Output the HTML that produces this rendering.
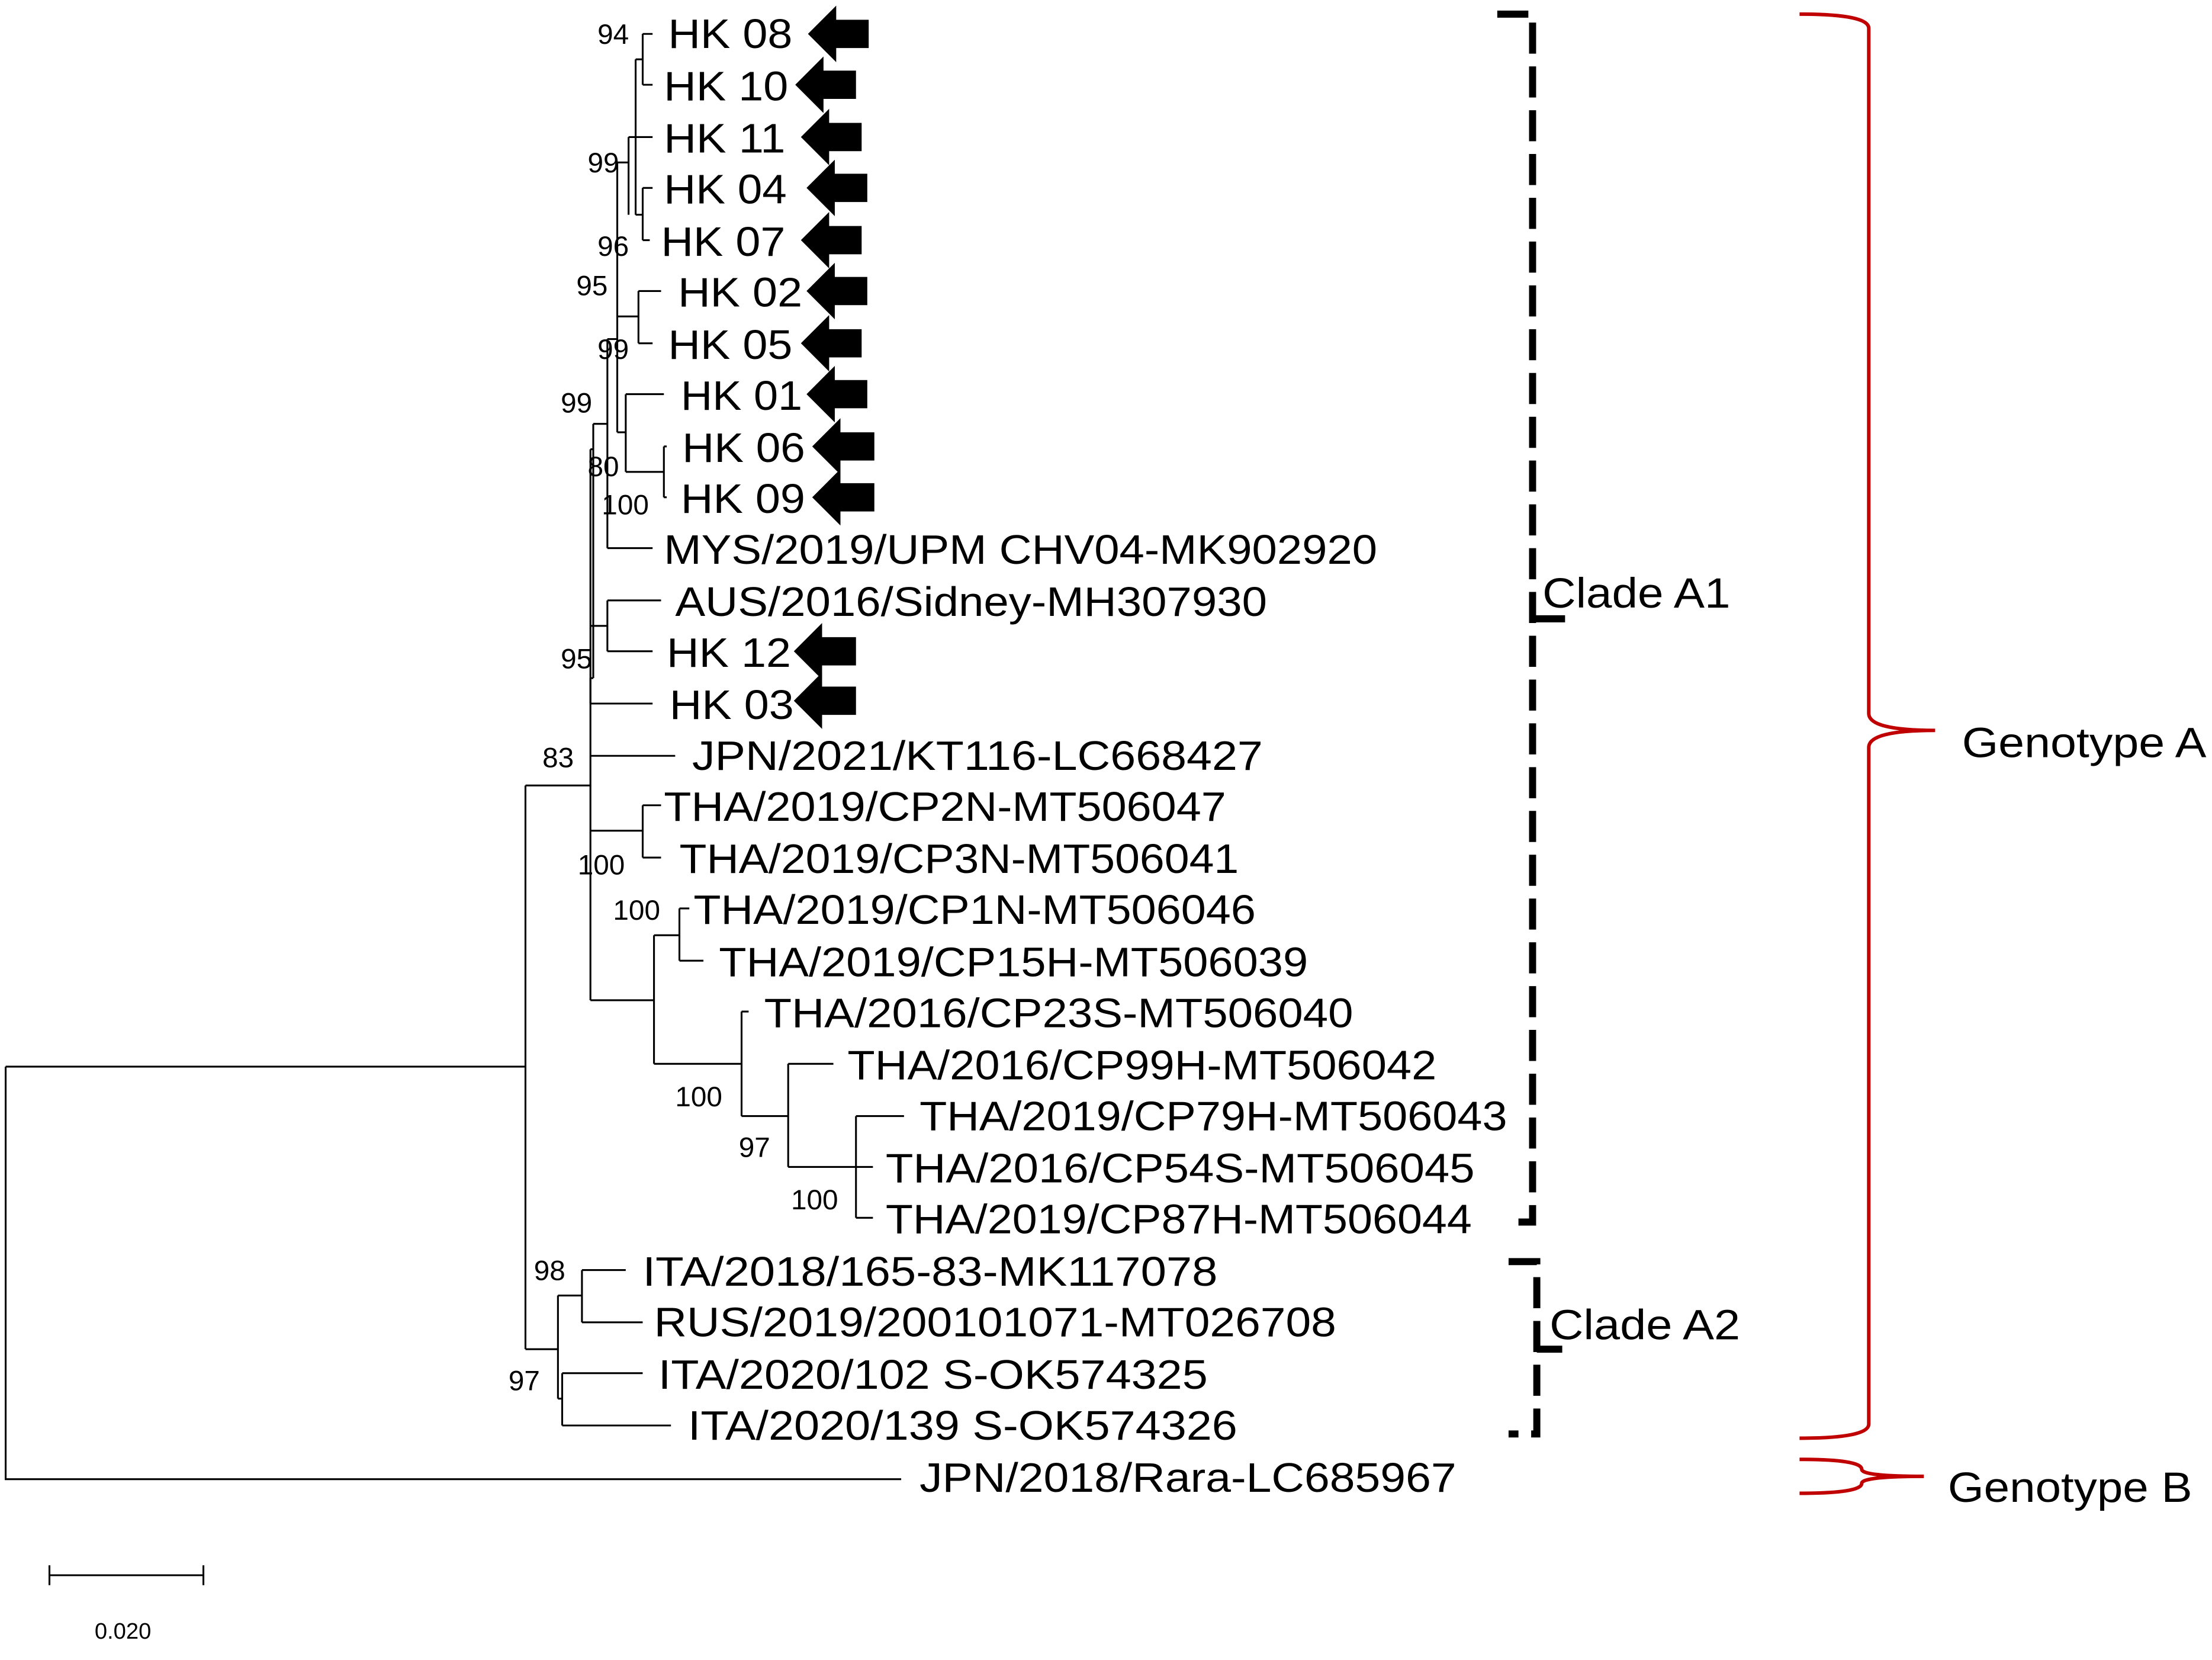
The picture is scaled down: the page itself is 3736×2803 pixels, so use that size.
<!DOCTYPE html>
<html><head><meta charset="utf-8"><style>
html,body{margin:0;padding:0;background:#fff;}
svg{display:block;}
text{font-family:"Liberation Sans",Arial,sans-serif;fill:#000;}
.l{font-size:29px;}
.b{font-size:20px;}
</style></head><body>
<svg width="3736" height="2803" viewBox="0 0 1566 1175" preserveAspectRatio="none" xmlns="http://www.w3.org/2000/svg">
<rect width="1566" height="1175" fill="#fff"/>
<g stroke="#000" stroke-width="1.3" fill="none">
<path d="M4 755V1047H638M4 755H372M372 556V955M372 556H418M372 955H395"/>
<path d="M395 917V990M395 917H412M412 899V936M412 899H440M440 899V899H443M412 936H455M395 990H398M398 972V1009M398 972H455M398 1009H475"/>
<path d="M418 318V708M418 535H478M418 588H455M455 570V607M455 570H468M455 607H468M418 708H463"/>
<path d="M463 662V753M463 662H481M481 643V680M481 643H488M481 680H498M463 753H525M525 716V790M525 716H530M525 790H558M558 753V826M558 753H590M558 826H606M606 790V862M606 790H640M606 826H618M606 862H618"/>
<path d="M418 318H420M420 300V480M420 300H430M430 240V388M430 388H462M420 480H418M418 443H430M430 425V461M430 425H468M430 461H462M418 498H462M418 480V498"/>
<path d="M430 240H437M437 115V306M437 115H445M445 97V152M445 97H450M450 42V152M450 42H455M455 24V60M455 24H462M455 60H462M450 97H462M450 152H455M455 133V170M455 133H462M455 170H460"/>
<path d="M437 224H452M452 206V243M452 206H458M458 206H468M452 243H462"/>
<path d="M437 306H443M443 279V334M443 279H470M443 334H470M470 316V352M470 316H472M470 352H472"/>
</g>
<g class="l" lengthAdjust="spacingAndGlyphs">
<text x="473" y="34" textLength="88" lengthAdjust="spacingAndGlyphs">HK 08</text>
<text x="470" y="71" textLength="88" lengthAdjust="spacingAndGlyphs">HK 10</text>
<text x="470" y="108" textLength="86" lengthAdjust="spacingAndGlyphs">HK 11</text>
<text x="470" y="144" textLength="87" lengthAdjust="spacingAndGlyphs">HK 04</text>
<text x="468" y="181" textLength="88" lengthAdjust="spacingAndGlyphs">HK 07</text>
<text x="480" y="217" textLength="88" lengthAdjust="spacingAndGlyphs">HK 02</text>
<text x="473" y="254" textLength="88" lengthAdjust="spacingAndGlyphs">HK 05</text>
<text x="482" y="290" textLength="86" lengthAdjust="spacingAndGlyphs">HK 01</text>
<text x="483" y="327" textLength="87" lengthAdjust="spacingAndGlyphs">HK 06</text>
<text x="482" y="363" textLength="88" lengthAdjust="spacingAndGlyphs">HK 09</text>
<text x="470" y="399" textLength="505" lengthAdjust="spacingAndGlyphs">MYS/2019/UPM CHV04-MK902920</text>
<text x="478" y="436" textLength="419" lengthAdjust="spacingAndGlyphs">AUS/2016/Sidney-MH307930</text>
<text x="472" y="472" textLength="88" lengthAdjust="spacingAndGlyphs">HK 12</text>
<text x="474" y="509" textLength="88" lengthAdjust="spacingAndGlyphs">HK 03</text>
<text x="490" y="545" textLength="404" lengthAdjust="spacingAndGlyphs">JPN/2021/KT116-LC668427</text>
<text x="470" y="581" textLength="398" lengthAdjust="spacingAndGlyphs">THA/2019/CP2N-MT506047</text>
<text x="481" y="618" textLength="396" lengthAdjust="spacingAndGlyphs">THA/2019/CP3N-MT506041</text>
<text x="491" y="654" textLength="398" lengthAdjust="spacingAndGlyphs">THA/2019/CP1N-MT506046</text>
<text x="509" y="691" textLength="417" lengthAdjust="spacingAndGlyphs">THA/2019/CP15H-MT506039</text>
<text x="541" y="727" textLength="417" lengthAdjust="spacingAndGlyphs">THA/2016/CP23S-MT506040</text>
<text x="600" y="764" textLength="417" lengthAdjust="spacingAndGlyphs">THA/2016/CP99H-MT506042</text>
<text x="651" y="800" textLength="416" lengthAdjust="spacingAndGlyphs">THA/2019/CP79H-MT506043</text>
<text x="627" y="837" textLength="417" lengthAdjust="spacingAndGlyphs">THA/2016/CP54S-MT506045</text>
<text x="627" y="873" textLength="415" lengthAdjust="spacingAndGlyphs">THA/2019/CP87H-MT506044</text>
<text x="455" y="910" textLength="407" lengthAdjust="spacingAndGlyphs">ITA/2018/165-83-MK117078</text>
<text x="463" y="946" textLength="483" lengthAdjust="spacingAndGlyphs">RUS/2019/200101071-MT026708</text>
<text x="466" y="983" textLength="389" lengthAdjust="spacingAndGlyphs">ITA/2020/102 S-OK574325</text>
<text x="487" y="1019" textLength="389" lengthAdjust="spacingAndGlyphs">ITA/2020/139 S-OK574326</text>
<text x="651" y="1056" textLength="380" lengthAdjust="spacingAndGlyphs">JPN/2018/Rara-LC685967</text>
</g>
<g class="b">
<text x="423" y="31">94</text>
<text x="416" y="122">99</text>
<text x="423" y="181">96</text>
<text x="408" y="209">95</text>
<text x="423" y="254">99</text>
<text x="397" y="292">99</text>
<text x="416" y="337">80</text>
<text x="426" y="364">100</text>
<text x="397" y="473">95</text>
<text x="384" y="543">83</text>
<text x="409" y="619">100</text>
<text x="434" y="651">100</text>
<text x="478" y="783">100</text>
<text x="523" y="819">97</text>
<text x="560" y="856">100</text>
<text x="378" y="906">98</text>
<text x="360" y="984">97</text>
</g>
<g fill="#000">
<polygon points="572,24 592,4 592,14 615,14 615,34 592,34 592,44"/>
<polygon points="563,60 583,40 583,50 606,50 606,70 583,70 583,80"/>
<polygon points="567,97 587,77 587,87 610,87 610,107 587,107 587,117"/>
<polygon points="571,133 591,113 591,123 614,123 614,143 591,143 591,153"/>
<polygon points="567,170 587,150 587,160 610,160 610,180 587,180 587,190"/>
<polygon points="571,206 591,186 591,196 614,196 614,216 591,216 591,226"/>
<polygon points="567,243 587,223 587,233 610,233 610,253 587,253 587,263"/>
<polygon points="571,279 591,259 591,269 614,269 614,289 591,289 591,299"/>
<polygon points="575,316 595,296 595,306 619,306 619,326 595,326 595,336"/>
<polygon points="575,352 595,332 595,342 619,342 619,362 595,362 595,372"/>
<polygon points="562,461 582,441 582,451 606,451 606,471 582,471 582,481"/>
<polygon points="562,496 582,476 582,486 606,486 606,506 582,506 582,516"/>
</g>
<g stroke="#000" stroke-width="5" fill="none">
<path d="M1060 10H1085V865H1068" stroke-dasharray="22 9"/>
<path d="M1085 438H1108"/>
<path d="M1068 893H1088V1015H1068" stroke-dasharray="22 9"/>
<path d="M1088 955H1106"/>
</g>
<text x="1092" y="430" style="font-size:30px" textLength="133" lengthAdjust="spacingAndGlyphs">Clade A1</text>
<text x="1097" y="948" style="font-size:30px" textLength="135" lengthAdjust="spacingAndGlyphs">Clade A2</text>
<g stroke="#c00000" stroke-width="2.5" fill="none">
<path d="M1274 10Q1323 10 1323 20V505Q1323 517 1370 517Q1323 517 1323 529V1008Q1323 1018 1274 1018"/>
<path d="M1274 1033Q1318 1033 1318 1040Q1318 1045 1362 1045Q1318 1045 1318 1050Q1318 1057 1274 1057"/>
</g>
<text x="1389" y="536" style="font-size:30px" textLength="173" lengthAdjust="spacingAndGlyphs">Genotype A</text>
<text x="1379" y="1063" style="font-size:30px" textLength="173" lengthAdjust="spacingAndGlyphs">Genotype B</text>
<path d="M35 1115H144M35 1108V1122M144 1108V1122" stroke="#000" stroke-width="1.3"/>
<text x="67" y="1160" style="font-size:16px">0.020</text>
</svg>
</body></html>
